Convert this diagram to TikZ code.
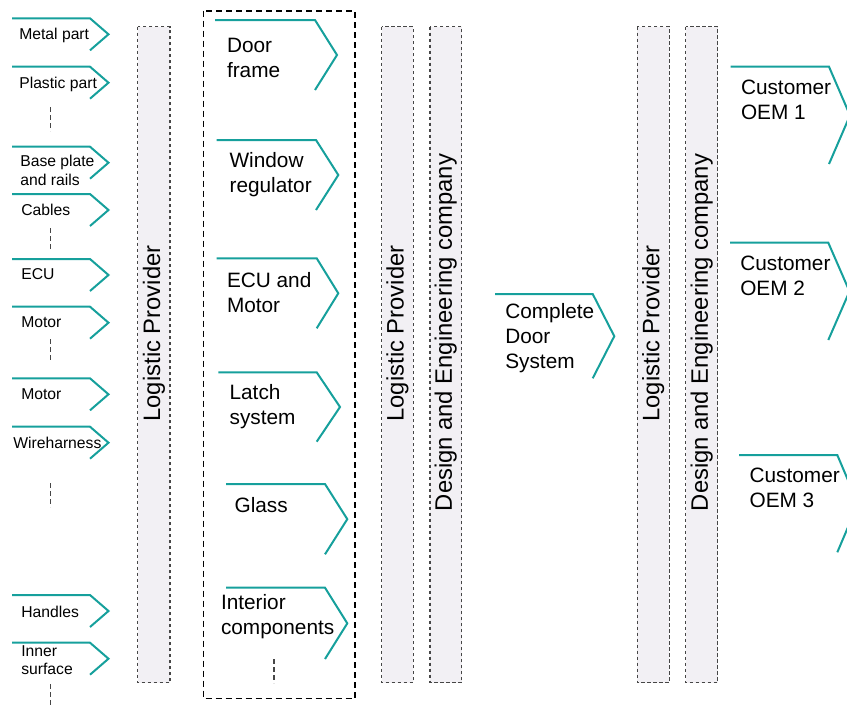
\documentclass[tikz,border=0pt]{standalone}
\usepackage{fontspec}
\setmainfont{Liberation Sans}
\usepackage{xcolor}
\usepackage{tikz}
\usetikzlibrary{calc}
\usetikzlibrary{positioning}

\definecolor{chevteal}{RGB}{22,160,156}
\definecolor{boxgray}{RGB}{242,240,244}
\definecolor{dashgray}{RGB}{70,70,70}

\begin{document}
\begin{tikzpicture}[x=1pt, y=-1pt, semithick]
  \tikzstyle{chev}=[draw=chevteal, line width=2pt]
  \tikzstyle{small}=[anchor=north west, inner sep=0pt, align=left, font=\fontsize{15.7}{18.5}\selectfont]
  \tikzstyle{big}=[anchor=north west, inner sep=0pt, align=left, font=\fontsize{20.8}{25}\selectfont]
  \tikzstyle{provbox}=[draw=dashgray, fill=boxgray, line width=1.3pt, dash pattern=on 3.5pt off 2.5pt]
  \tikzstyle{vlabel}=[rotate=90, inner sep=0pt, font=\fontsize{23.8}{28}\selectfont]
  \tikzstyle{more}=[draw=dashgray, line width=1.4pt, dash pattern=on 5pt off 3pt]
\useasboundingbox (0,0) rectangle (847,705);

% supplier parts
\foreach \t/\lab/\tx/\ty [count=\i] in {18.3/Metal part/19/28.3, 66.7/Plastic part/19/76.7,
    146.7/{Base plate\\and rails}/20/155, 194/Cables/21/204, 259/ECU/21/268.3,
    306.7/Motor/21/316.7, 378.3/Motor/21/388.3, 426.7/Wireharness/13/436.7,
    595/Handles/21/605.7, 642.7/{Inner\\surface}/21/645}{
    \draw[chev] (12,\t) -- (90,\t) -- (108.5,\t+16) -- (90,\t+32);
    \node[small] (part_\i) at (\tx,\ty) {\lab};
  }
\foreach \ya/\yb in {107/131, 228/250, 339/362, 483/507, 684/705}
    \draw[more] (50.7,\ya) -- (50.7,\yb);

% logistic provider, first tier
\draw[provbox] (137.7,26.7) rectangle (170,682.7);
\node[vlabel] (lp_1) at (154,333.5) {Logistic Provider};

% modules
\draw[black, line width=1.6pt, dash pattern=on 6pt off 4pt] (203.3,10.7) rectangle (355,698.3);
\foreach \xa/\xb/\tip/\top/\bot/\lab/\tx/\ty [count=\i] in {
    215/315/337/20/90/{Door\\frame}/226.7/37.7,
    216.7/316/338.3/140/210/{Window\\regulator}/229.3/151.7,
    216.7/316.7/338.3/258.3/328.3/{ECU and\\Motor}/226.7/271.7,
    218.3/316.7/340/372.3/441.7/{Latch\\system}/229.3/384.3,
    226/325/347.3/484/554.3/Glass/234.3/497.3,
    226/325/347.3/587.7/659/{Interior\\components}/220.7/594.3}{
    \draw[chev] (\xa,\top) -- (\xb,\top) -- (\tip,{(\top+\bot)/2}) -- (\xb,\bot);
    \node[big] (mod_\i) at (\tx,\ty) {\lab};
  }
\draw[more] (274,659) -- (274,683);

% second tier
\draw[provbox] (381.7,26.7) rectangle (413.3,682.7);
\node[vlabel] (lp_2) at (397.5,333.5) {Logistic Provider};
\draw[provbox] (430,26.7) rectangle (461.7,682.7);
\node[vlabel] (de_2) at (445.8,332.5) {Design and Engineering company};

\draw[chev] (495,294) -- (592.7,294) -- (614.3,336.2) -- (592.7,378.3);
\node[big] (system) at (505,303.3) {Complete\\Door\\System};

% third tier
\draw[provbox] (637.3,26.7) rectangle (669.3,682.7);
\node[vlabel] (lp_3) at (653.3,333.5) {Logistic Provider};
\draw[provbox] (685.7,26.7) rectangle (717.7,682.7);
\node[vlabel] (de_3) at (701.7,332.5) {Design and Engineering company};

% customers
\foreach \xa/\xb/\tip/\top/\bot/\tx/\ty [count=\i] in {
    730.7/829/850/66.7/164/740.7/79.3,
    730/828.3/849.5/242.7/340/740/256,
    739/837.3/858/455/552.3/749.3/467.3}{
    \draw[chev] (\xa,\top) -- (\xb,\top) -- (\tip,{(\top+\bot)/2}) -- (\xb,\bot);
    \node[big] (oem_\i) at (\tx,\ty) {Customer\\OEM \i};
  }
\end{tikzpicture}
\end{document}
